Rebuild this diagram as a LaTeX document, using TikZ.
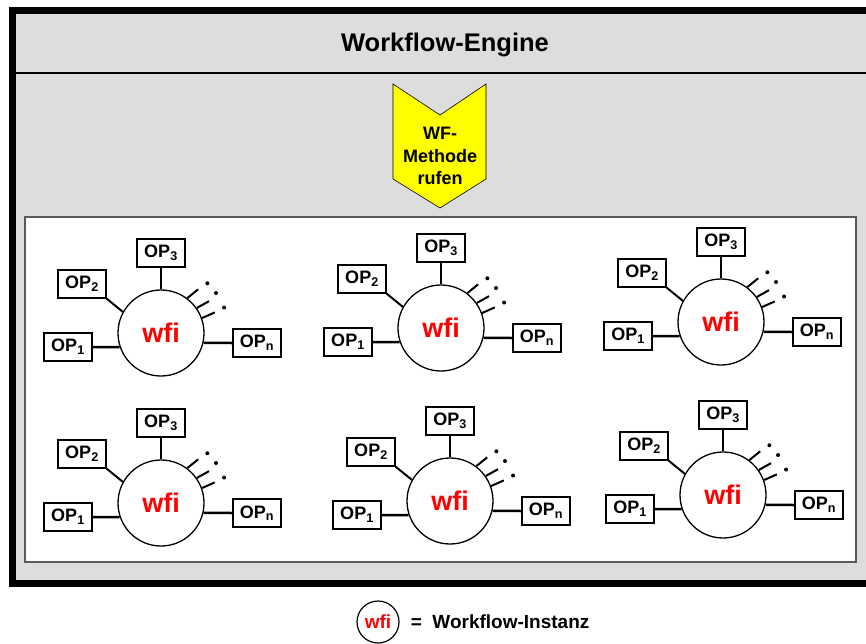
\documentclass[tikz,border=0pt]{standalone}
\usepackage{fontspec}
\setmainfont{Liberation Sans}
\usetikzlibrary{calc}
\definecolor{panel}{HTML}{DDDDDD}
\definecolor{frame}{HTML}{5A5A5A}
\definecolor{wfired}{HTML}{FF0000}
\definecolor{callyellow}{HTML}{FFFF00}

\begin{document}
\begin{tikzpicture}[x=1pt,y=-1pt,
  opbox/.style={draw,line width=1.2pt,fill=white,minimum width=48pt,minimum height=28pt,
    inner sep=1pt,font=\fontsize{18}{20}\selectfont\bfseries},
  inst/.style={circle,draw,line width=1.3pt,fill=white,minimum size=86pt,inner sep=0pt,
    text=wfired,font=\fontsize{27}{30}\selectfont\bfseries},
  link/.style={line width=2.5pt},
  stub/.style={line width=2pt}]
  \useasboundingbox (0,0) rectangle (866,643);
  % engine frame
  \fill[panel] (16,13) rectangle (866,580);
  \draw[line width=7pt] (866,10)--(12.5,10)--(12.5,583.5)--(866,583.5);
  \draw[line width=2pt] (16,73)--(866,73);
  \node[font=\fontsize{25.5}{28}\selectfont\bfseries] (title) at (445,45) {Workflow-Engine};
  % method call
  \draw[fill=callyellow,line width=0.6pt] (393,84)--(440,115)--(486,84)--(486,179)--(440,208)--(393,179)--cycle;
  \node[align=center,font=\fontsize{18}{22.5}\selectfont\bfseries] (call) at (440,156) {WF-\\Methode\\rufen};
  \draw[frame,fill=white,line width=1.5pt] (25,217) rectangle (856,562);
  % instances
  \foreach \i/\x/\y in {1/161/333,2/441/328,3/721/322,4/161/503,5/450/501,6/723/495} {
    \node[inst] (w\i) at (\x,\y) {wfi};
    \node[opbox] (a\i) at ($(w\i)+(-93,14)$) {OP\textsubscript{1}};
    \node[opbox] (b\i) at ($(w\i)+(-79,-49)$) {OP\textsubscript{2}};
    \node[opbox] (c\i) at ($(w\i)+(0,-80)$) {OP\textsubscript{3}};
    \node[opbox] (n\i) at ($(w\i)+(96,10)$) {OP\textsubscript{n}};
    \draw[link] (a\i.east) -- (w\i.199);
    \draw[stub] (b\i.south east) -- (w\i.151);
    \draw[link] (c\i.south) -- (w\i.north);
    \draw[link] (w\i.347) -- (n\i.west);
    \foreach \a/\d in {53/39,35/29,20/24} \draw[stub] (w\i.\a) -- ++(\d:14pt);
    \foreach \a in {47,36,22} \fill ($(w\i)+(\a:68pt)$) circle (2pt);
  }
  % legend
  \node[inst,minimum size=42pt,line width=1.2pt,font=\fontsize{19}{21}\selectfont\bfseries] (key) at (378,622) {wfi};
  \node[anchor=west,inner sep=0pt,font=\fontsize{19}{21}\selectfont\bfseries] (keytext) at ($(key.east)+(11,0)$) {=\ \ Workflow-Instanz};
\end{tikzpicture}
\end{document}
